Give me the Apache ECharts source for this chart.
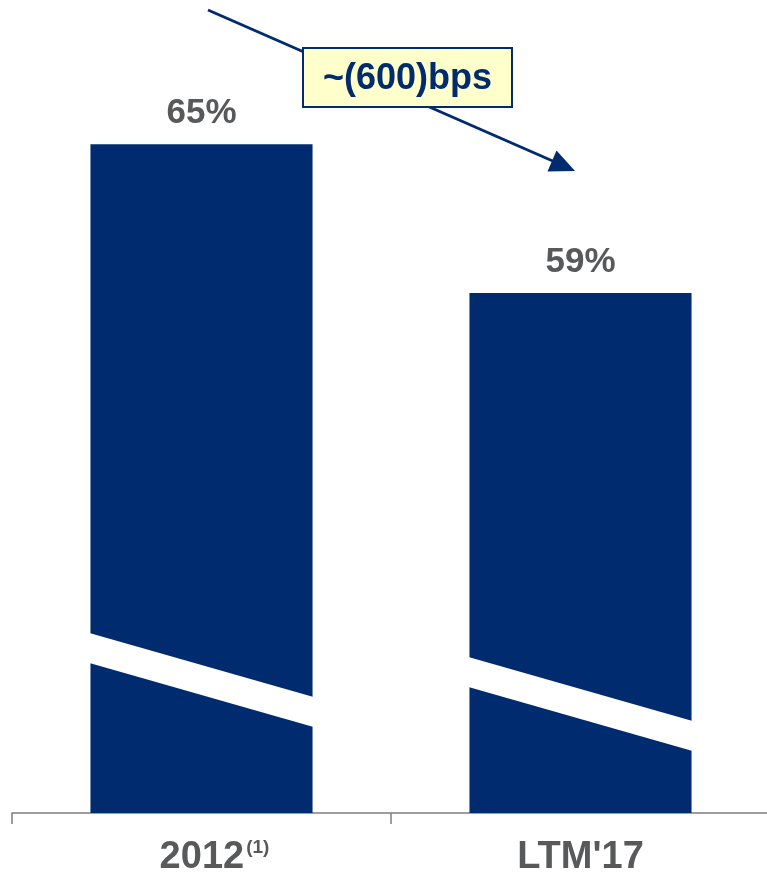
<!DOCTYPE html>
<html>
<head>
<meta charset="utf-8">
<script src="https://cdn.jsdelivr.net/npm/echarts@6/dist/echarts.min.js"></script>
<style>
html,body{margin:0;padding:0;background:#fff;}
#c{width:767px;height:874px;}
</style>
</head>
<body>
<div id="c"></div>
<script>
var categories = ['2012', "LTM'17"];
var footnotes = ['(1)', ''];
var values = [65, 59];
var valueLabels = ['65%', '59%'];
var changeLabel = '~(600)bps';

var NAVY = '#002C6F';
var GRAY = '#58595B';
var AXIS_MIN = 38.06, AXIS_MAX = 70;
// break stripe style (pixels above the axis base, per bar)
var breakLift = [180, 156];
var breakDrop = 64, breakThick = 30, barRatio = 0.586;

var chart = echarts.init(document.getElementById('c'), null, {renderer: 'canvas'});

chart.setOption({
  animation: false,
  backgroundColor: '#fff',
  grid: {left: 12, width: 758, top: 20, bottom: 61, containLabel: false, outerBoundsMode: 'none'},
  xAxis: {
    type: 'category',
    data: categories,
    boundaryGap: true,
    axisLine: {show: true, lineStyle: {color: '#7F7F7F', width: 1.5}},
    axisTick: {show: true, length: 11, lineStyle: {color: '#7F7F7F', width: 1.5}},
    axisLabel: {
      margin: 25,
      formatter: function (v, i) {
        return footnotes[i] ? '{p|}{a|' + v + '}{s|' + footnotes[i] + '}' : '{a|' + v + '}';
      },
      rich: {
        p: {width: 26},
        a: {fontFamily: 'Liberation Sans, Arial, sans-serif', fontWeight: 'bold', fontSize: 38, color: GRAY, lineHeight: 40},
        s: {fontFamily: 'Liberation Sans, Arial, sans-serif', fontWeight: 'bold', fontSize: 19, color: GRAY, verticalAlign: 'top', lineHeight: 40, padding: [0, 0, 18, 2]}
      }
    }
  },
  yAxis: {
    type: 'value', min: AXIS_MIN, max: AXIS_MAX,
    show: false, splitLine: {show: false}
  },
  series: [
    {
      type: 'bar',
      data: values,
      barWidth: (barRatio * 100) + '%',
      itemStyle: {color: NAVY},
      label: {
        show: true, position: 'top', distance: 13,
        formatter: function (p) { return valueLabels[p.dataIndex]; },
        fontFamily: 'Liberation Sans, Arial, sans-serif', fontWeight: 'bold', fontSize: 35, color: GRAY
      },
      z: 2
    },
    {
      type: 'custom',
      data: values.map(function (v, i) { return [i, v]; }),
      z: 3,
      silent: true,
      renderItem: function (params, api) {
        var i = api.value(0);
        var base = api.coord([i, AXIS_MIN]);
        var bw = api.size([1, 0])[0] * barRatio;
        var x0 = base[0] - bw / 2, x1 = base[0] + bw / 2;
        var yTop0 = base[1] - breakLift[params.dataIndex];
        var yTop1 = yTop0 + breakDrop;
        return {
          type: 'polygon',
          shape: {points: [[x0 - 1, yTop0], [x1 + 1, yTop1], [x1 + 1, yTop1 + breakThick], [x0 - 1, yTop0 + breakThick]]},
          style: {fill: '#fff'}
        };
      }
    }
  ],
  graphic: [
    {type: 'line', shape: {x1: 208, y1: 10, x2: 555, y2: 162}, style: {stroke: NAVY, lineWidth: 3}, z: 10},
    {type: 'polygon', shape: {points: [[575, 171], [547.5, 171.5], [556.5, 150.5]]}, style: {fill: NAVY}, z: 10},
    {type: 'rect', shape: {x: 303, y: 48, width: 209, height: 59}, style: {fill: '#FFFFCC', stroke: NAVY, lineWidth: 2}, z: 11},
    {type: 'text', x: 407.5, y: 79, style: {text: changeLabel, fill: NAVY, font: 'bold 36px "Liberation Sans", Arial, sans-serif', align: 'center', verticalAlign: 'middle'}, z: 12}
  ]
});
</script>
</body>
</html>
